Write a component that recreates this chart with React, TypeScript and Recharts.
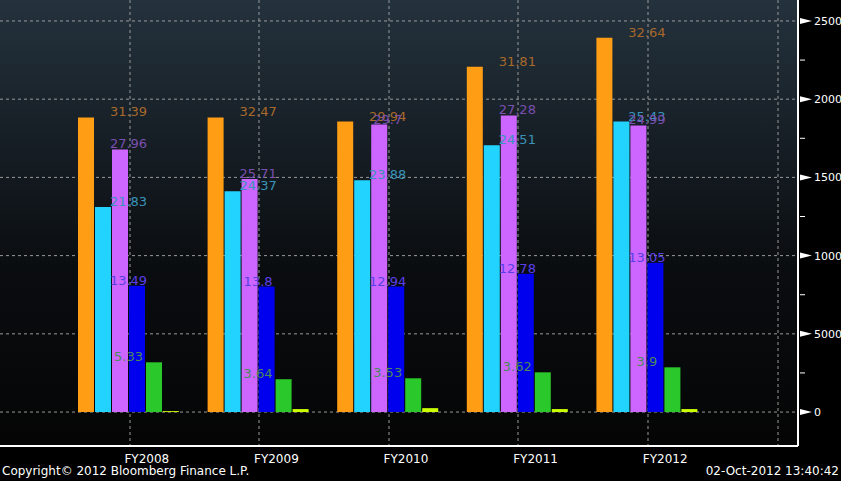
import React from 'react'
import { BarChart, Bar, XAxis, YAxis, CartesianGrid, LabelList } from 'recharts'

const years = ['FY2008', 'FY2009', 'FY2010', 'FY2011', 'FY2012']
const orangeVals = [18830, 18830, 18570, 22070, 23920]
const cyanVals = [13100, 14120, 14820, 17050, 18570]
const violetVals = [16790, 14890, 18380, 18960, 18320]
const blueVals = [8080, 8020, 8020, 8840, 9540]
const greenVals = [3180, 2100, 2160, 2540, 2860]
const yellowVals = [60, 190, 250, 190, 190]

const orangeLbl = [31.39, 32.47, 29.94, 31.81, 32.64]
const cyanLbl = [21.83, 24.37, 23.88, 24.51, 25.43]
const violetLbl = [27.96, 25.71, 29.7, 27.28, 24.99]
const blueLbl = [13.49, 13.8, 12.94, 12.78, 13.05]
const greenLbl = [5.33, 3.64, 3.53, 3.62, 3.9]

const yTicks = [0, 2500, 5000, 7500, 10000, 12500, 15000, 17500, 20000, 22500, 25000]
const gridTicks = [0, 5000, 10000, 15000, 20000, 25000]
const Y_MIN = -2170
const Y_MAX = 26340

const data = years.map((y, i) => ({
  year: y,
  orange: orangeVals[i],
  cyan: cyanVals[i],
  violet: violetVals[i],
  blue: blueVals[i],
  green: greenVals[i],
  yellow: yellowVals[i],
  orangeLbl: orangeLbl[i],
  cyanLbl: cyanLbl[i],
  violetLbl: violetLbl[i],
  blueLbl: blueLbl[i],
  greenLbl: greenLbl[i]
}))

const series = [
  { key: 'orange', fill: '#FF9E14', lbl: 'orangeLbl', lblColor: '#A8692A' },
  { key: 'cyan', fill: '#22D3FF', lbl: 'cyanLbl', lblColor: '#3A93B8' },
  { key: 'violet', fill: '#CC66FF', lbl: 'violetLbl', lblColor: '#7A4FB0' },
  { key: 'blue', fill: '#0000EE', lbl: 'blueLbl', lblColor: '#5A3FE8' },
  { key: 'green', fill: '#2BC82B', lbl: 'greenLbl', lblColor: '#4A8A5A' },
  { key: 'yellow', fill: '#CCFF00', lbl: null, lblColor: '' }
]

const makeLabel = (idx: number, color: string) => (props: any) => {
  const { x, y, width, value } = props
  const cx = x + width / 2 + (2.5 - idx) * (width + 1)
  return (
    <text x={cx} y={y - 1} textAnchor="middle" fill={color} fontSize={13} fontFamily="DejaVu Sans">
      {value}
    </text>
  )
}

const YTick = (props: any) => {
  const { x, y, payload } = props
  if (payload.value % 5000 !== 0) {
    return <line x1={x - 6} x2={x - 1} y1={y} y2={y} stroke="#fff" />
  }
  return (
    <g>
      <polygon points={`${x - 6},${y - 3} ${x + 6},${y} ${x - 6},${y + 3}`} fill="#fff" />
      <text x={x + 8} y={y + 4} fill="#fff" fontSize={11} fontFamily="DejaVu Sans">
        {payload.value}
      </text>
    </g>
  )
}

export default function App() {
  return (
    <div style={{ position: 'absolute', left: 0, top: 0, width: 841, height: 481, background: '#000', fontFamily: 'DejaVu Sans' }}>
      <BarChart
        width={841}
        height={481}
        data={data}
        margin={{ top: 0, right: 0, left: 0, bottom: 0 }}
        barGap={1}
        barCategoryGap={13}
      >
        <defs>
          <linearGradient id="bg" x1="0" y1="0" x2="0" y2="1">
            <stop offset="0%" stopColor="#24323D" />
            <stop offset="60%" stopColor="#0A0D10" />
            <stop offset="100%" stopColor="#050505" />
          </linearGradient>
        </defs>
        <CartesianGrid
          fill="url(#bg)"
          stroke="#9A9A9A"
          strokeDasharray="3 3"
          verticalPoints={[130, 259, 389, 518, 648, 778]}
          horizontalCoordinatesGenerator={({ offset }: any) =>
            gridTicks.map((v) => offset.top + (offset.height * (Y_MAX - v)) / (Y_MAX - Y_MIN))
          }
        />
        <XAxis
          dataKey="year"
          height={35}
          padding={{ left: 65, right: 85 }}
          axisLine={{ stroke: '#fff', strokeWidth: 2 }}
          tickLine={false}
          tick={{ fill: '#fff', fontSize: 12, dx: 17, dy: 0 }}
        />
        <YAxis
          orientation="right"
          width={43}
          domain={[Y_MIN, Y_MAX]}
          ticks={yTicks}
          interval={0}
          axisLine={{ stroke: '#fff', strokeWidth: 2 }}
          tickLine={false}
          tick={<YTick />}
        />
        {series.map((s, i) => (
          <Bar key={s.key} dataKey={s.key} fill={s.fill} isAnimationActive={false}>
            {s.lbl && <LabelList dataKey={s.lbl} content={makeLabel(i, s.lblColor)} />}
          </Bar>
        ))}
      </BarChart>
      <div style={{ position: 'absolute', left: 2, top: 464, color: '#fff', fontSize: 12 }}>
        Copyright© 2012 Bloomberg Finance L.P.
      </div>
      <div style={{ position: 'absolute', right: 2, top: 464, color: '#fff', fontSize: 12 }}>
        02-Oct-2012 13:40:42
      </div>
    </div>
  )
}
